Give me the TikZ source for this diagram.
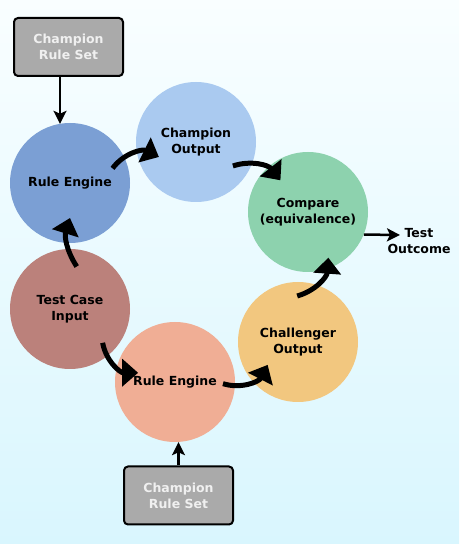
\documentclass[tikz,border=0pt]{standalone}
\usepackage{fontspec}
\setmainfont{DejaVu Sans}
\usetikzlibrary{arrows.meta}
\definecolor{engineblue}{HTML}{7B9FD4}
\definecolor{champblue}{HTML}{AACAF0}
\definecolor{comparegreen}{HTML}{8DD2AE}
\definecolor{challorange}{HTML}{F2C77F}
\definecolor{inputbrown}{HTML}{BB817B}
\definecolor{enginesalmon}{HTML}{F0AE95}
\definecolor{boxgray}{HTML}{AAAAAA}
\definecolor{boxtext}{HTML}{F0F0F0}
\definecolor{bgtop}{HTML}{F9FEFF}
\definecolor{bgbottom}{HTML}{D9F6FE}
\begin{document}
\begin{tikzpicture}[x=1pt,y=1pt,
    font=\fontsize{12.5}{16}\selectfont\bfseries,
    stage/.style={circle,minimum size=120pt,inner sep=0pt,align=center},
    ruleset/.style={draw=black,line width=2pt,rounded corners=4pt,fill=boxgray,
        text=boxtext,minimum width=109pt,minimum height=58pt,align=center},
    flow/.style={line width=5pt,-{Triangle[length=16pt,width=27pt]}},
    feed/.style={line width=2.5pt,-{Stealth[length=13pt,width=13pt,inset=3pt]}}]
    % background
    \fill[top color=bgtop,bottom color=bgbottom] (0,0) rectangle (459,544);
    \useasboundingbox (0,0) rectangle (459,544);
    % rule sets
    \node[ruleset] (rsA) at (68.5,497) {Champion\\Rule Set};
    \node[ruleset] (rsB) at (178.5,48.5) {Champion\\Rule Set};
    % stages
    \node[stage,fill=engineblue] (reA) at (70,361) {Rule Engine};
    \node[stage,fill=champblue] (chOut) at (196,402) {Champion\\Output};
    \node[stage,fill=comparegreen] (cmp) at (308,332) {Compare\\(equivalence)};
    \node[stage,fill=challorange] (chlOut) at (298,202) {Challenger\\Output};
    \node[stage,fill=inputbrown] (tci) at (70,235) {Test Case\\Input};
    \node[stage,fill=enginesalmon] (reB) at (175,162) {Rule Engine};
    \node[align=center] (out) at (419,303) {Test\\Outcome};
    \coordinate (outTip) at (400,309);
    % straight arrows
    \draw[feed] ([xshift=-8.5pt]rsA.south) -- ([xshift=-10pt,yshift=-1pt]reA.north);
    \draw[feed] (rsB.north) -- (rsB.north |- reB.south);
    \draw[feed] (cmp.-22.5) -- (outTip);
    % curved arrows
    \draw[flow] ([shift={(19:45)}]reA.center) to[bend left=40] ([shift={(202:40)}]chOut.center);
    \draw[flow] ([shift={(-33:44)}]chOut.center) to[bend left=35] ([shift={(131:42)}]cmp.center);
    \draw[flow] ([shift={(91:46)}]chlOut.center) to[bend right=35] ([shift={(-66:50)}]cmp.center);
    \draw[flow] ([shift={(-2:48)}]reB.center) to[bend right=40] ([shift={(217:38)}]chlOut.center);
    \draw[flow] ([shift={(-46:47)}]tci.center) to[bend right=40] ([shift={(166:38)}]reB.center);
    \draw[flow] ([shift={(81:43)}]tci.center) to[bend left=25] ([shift={(270:35)}]reA.center);
\end{tikzpicture}
\end{document}
